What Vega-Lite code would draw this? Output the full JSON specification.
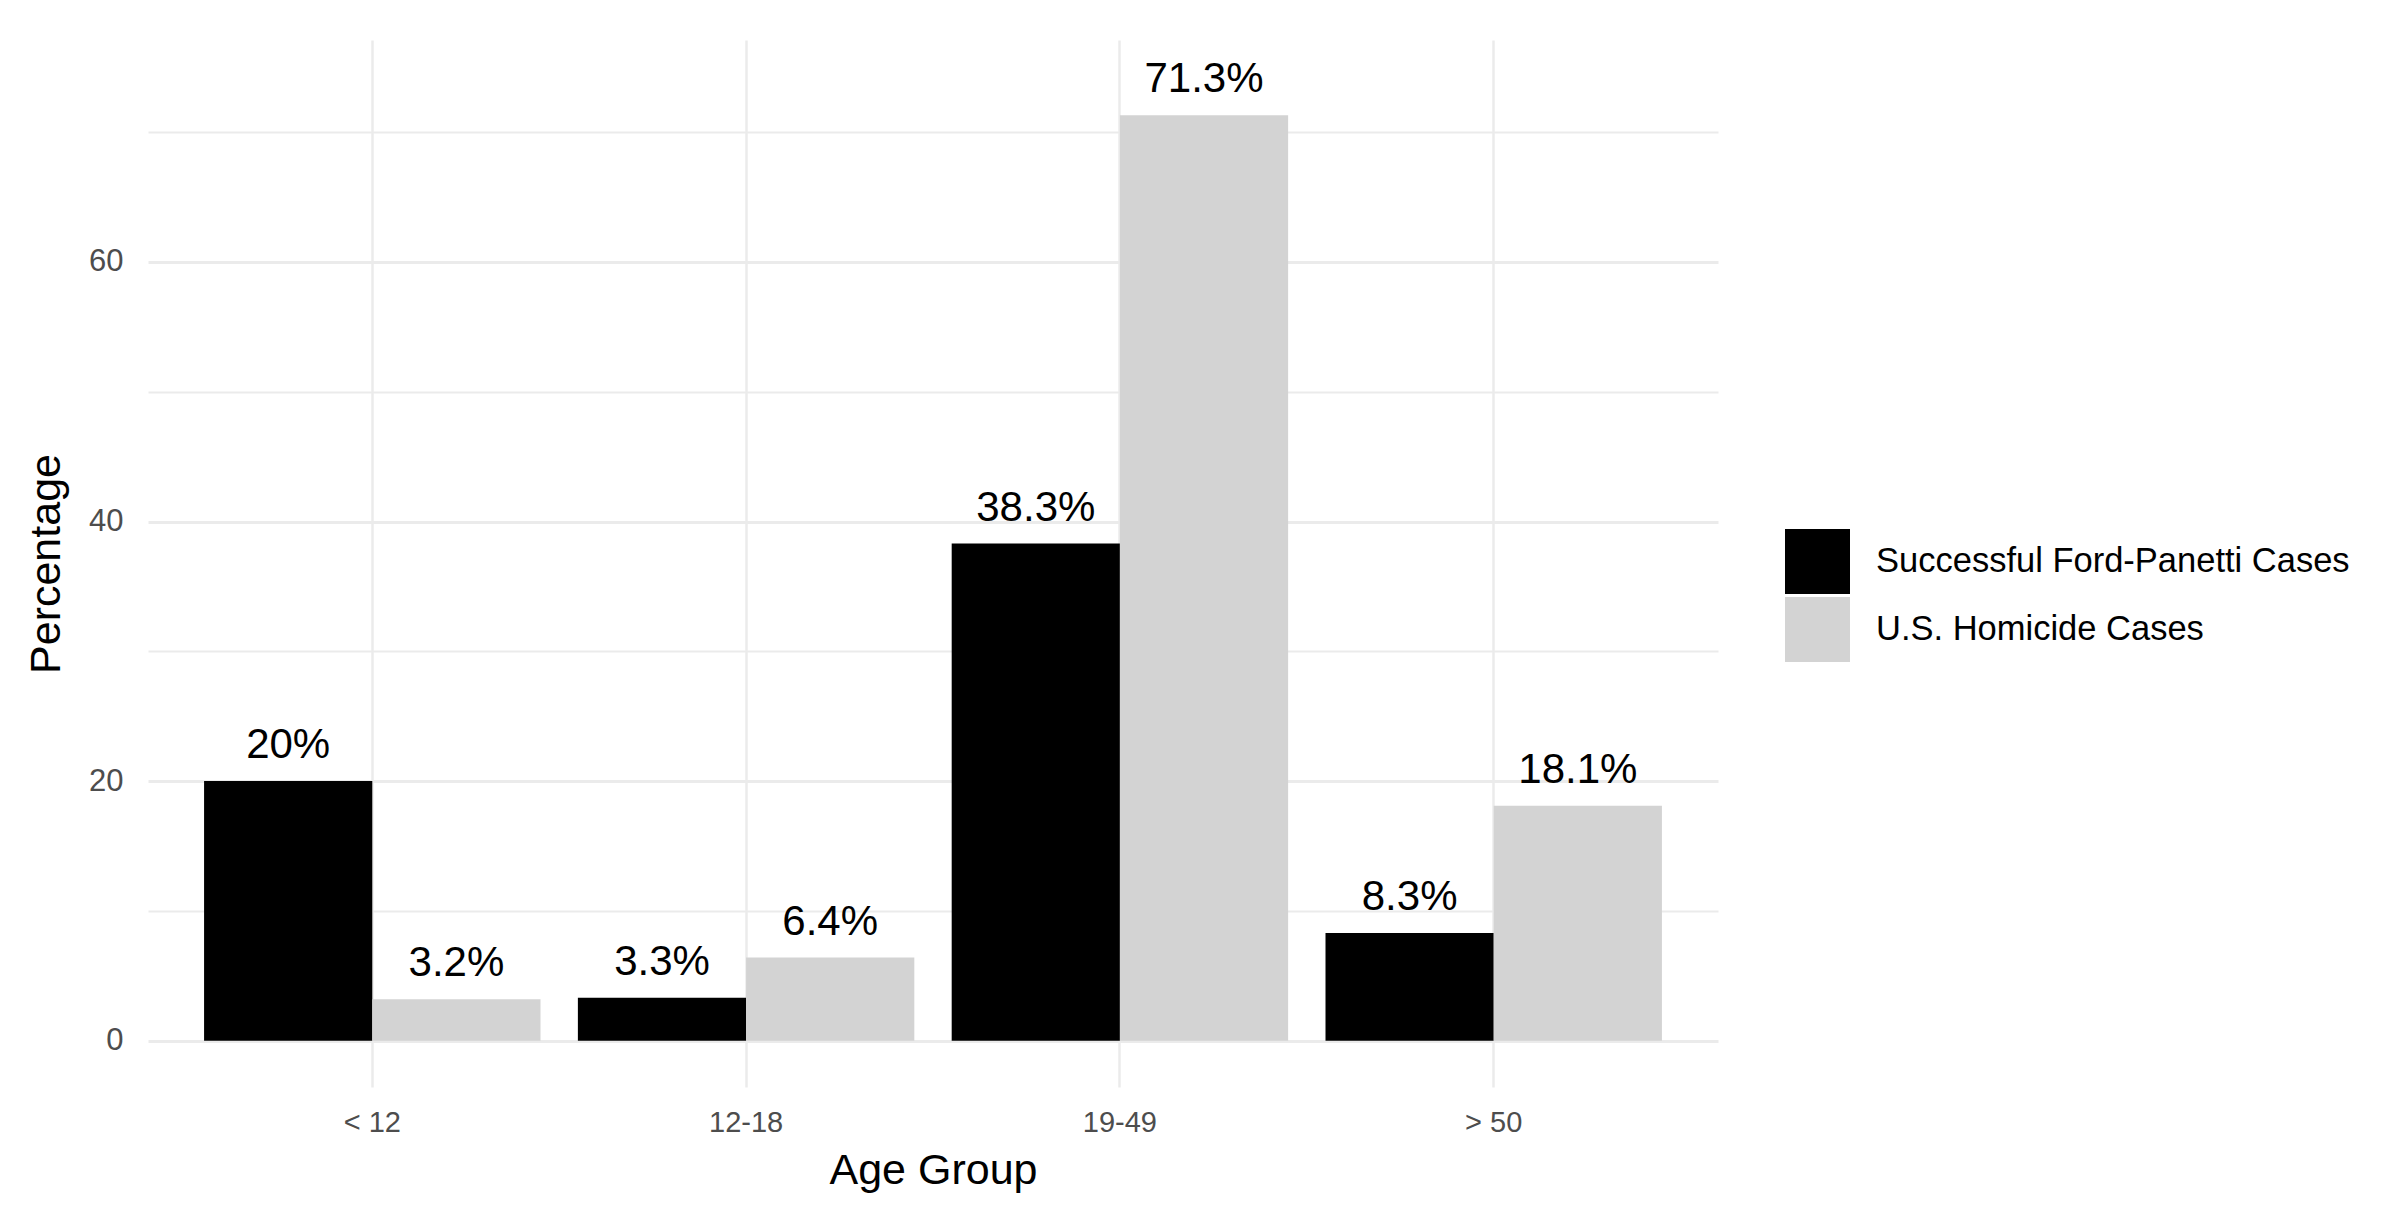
{
  "$schema": "https://vega.github.io/schema/vega-lite/v6.json",
  "width": 1570,
  "height": 1047,
  "autosize": {"type": "none"},
  "padding": {"left": 148, "top": 40, "right": 672, "bottom": 139},
  "background": "white",
  "config": {
    "view": {"stroke": null},
    "font": "Liberation Sans"
  },
  "data": {
    "values": [
      {"age": "< 12", "group": "Successful Ford-Panetti Cases", "value": 20, "label": "20%"},
      {"age": "< 12", "group": "U.S. Homicide Cases", "value": 3.2, "label": "3.2%"},
      {"age": "12-18", "group": "Successful Ford-Panetti Cases", "value": 3.3, "label": "3.3%"},
      {"age": "12-18", "group": "U.S. Homicide Cases", "value": 6.4, "label": "6.4%"},
      {"age": "19-49", "group": "Successful Ford-Panetti Cases", "value": 38.3, "label": "38.3%"},
      {"age": "19-49", "group": "U.S. Homicide Cases", "value": 71.3, "label": "71.3%"},
      {"age": "> 50", "group": "Successful Ford-Panetti Cases", "value": 8.3, "label": "8.3%"},
      {"age": "> 50", "group": "U.S. Homicide Cases", "value": 18.1, "label": "18.1%"}
    ]
  },
  "encoding": {
    "x": {
      "field": "age",
      "type": "nominal",
      "sort": ["< 12", "12-18", "19-49", "> 50"],
      "scale": {"paddingInner": 0.1, "paddingOuter": 0.15},
      "axis": {
        "title": "Age Group",
        "labelAngle": 0,
        "labelFontSize": 29,
        "labelColor": "#4d4d4d",
        "labelPadding": 21,
        "titleFontSize": 43,
        "titleFontWeight": "normal",
        "titleColor": "#000000",
        "titlePadding": 12,
        "domain": false,
        "ticks": false,
        "grid": true,
        "bandPosition": 0.5,
        "gridColor": "#ebebeb",
        "gridWidth": 2.5
      }
    },
    "xOffset": {
      "field": "group",
      "type": "nominal",
      "scale": {"paddingInner": 0, "paddingOuter": 0}
    },
    "y": {
      "field": "value",
      "type": "quantitative",
      "scale": {"domain": [-3.57, 77.1], "nice": false, "zero": false},
      "axis": {
        "title": "Percentage",
        "values": [0, 10, 20, 30, 40, 50, 60, 70],
        "labelExpr": "datum.value % 20 === 0 ? datum.label : ''",
        "labelFontSize": 31,
        "labelColor": "#4d4d4d",
        "labelPadding": 25,
        "titleFontSize": 43,
        "titleFontWeight": "normal",
        "titleColor": "#000000",
        "titlePadding": 20,
        "domain": false,
        "ticks": false,
        "grid": true,
        "gridColor": "#ebebeb",
        "gridWidth": {"condition": {"test": "datum.value % 20 === 0", "value": 3}, "value": 1.8}
      }
    }
  },
  "layer": [
    {
      "mark": {"type": "bar"},
      "encoding": {
        "y2": {"datum": 0},
        "color": {
          "field": "group",
          "type": "nominal",
          "scale": {
            "domain": ["Successful Ford-Panetti Cases", "U.S. Homicide Cases"],
            "range": ["#000000", "#d3d3d3"]
          },
          "legend": {
            "title": null,
            "orient": "none",
            "legendX": 1637,
            "legendY": 489,
            "padding": 0,
            "symbolType": "square",
            "symbolSize": 4225,
            "symbolStrokeWidth": 0,
            "labelFontSize": 34.5,
            "labelColor": "#000000",
            "labelOffset": 26,
            "labelLimit": 0,
            "rowPadding": 3
          }
        }
      }
    },
    {
      "mark": {"type": "text", "fontSize": 42, "color": "#000000", "baseline": "alphabetic", "dy": -23, "align": "center"},
      "encoding": {
        "text": {"field": "label", "type": "nominal"}
      }
    }
  ]
}
